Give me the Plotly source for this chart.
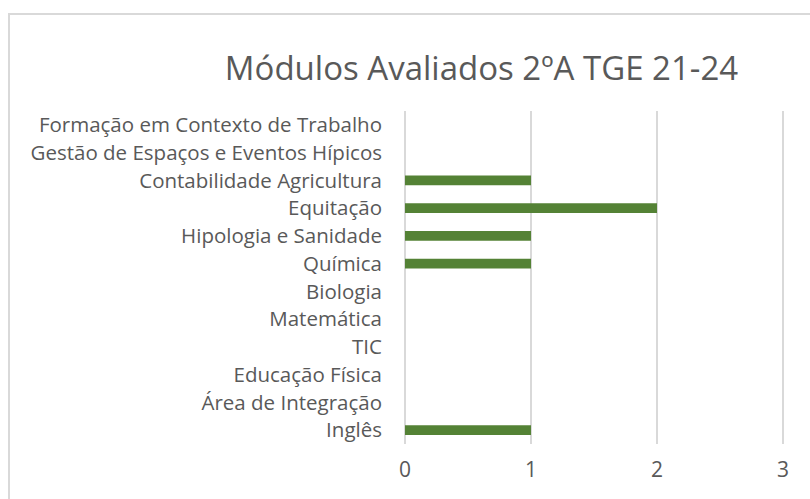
import plotly.graph_objects as go

categories = [
    "Inglês",
    "Área de Integração",
    "Educação Física",
    "TIC",
    "Matemática",
    "Biologia",
    "Química",
    "Hipologia e Sanidade",
    "Equitação",
    "Contabilidade Agricultura",
    "Gestão de Espaços e Eventos Hípicos",
    "Formação em Contexto de Trabalho",
]
values = [1, 0, 0, 0, 0, 0, 1, 1, 2, 1, 0, 0]
x_ticks = [0, 1, 2, 3]

W, H = 810, 499
L, R, T, B = 404, 26, 111, 55
pw, ph = W - L - R, H - T - B

fig = go.Figure(go.Bar(
    y=categories, x=values, orientation="h",
    marker=dict(color="#548235", line=dict(width=0)),
    width=0.36,
))

font_family = "Open Sans, Liberation Sans, sans-serif"

fig.update_layout(
    width=W, height=H,
    margin=dict(l=L, r=R, t=T, b=B),
    paper_bgcolor="white", plot_bgcolor="white",
    showlegend=False,
    title=dict(
        text="Módulos Avaliados 2ºA TGE 21-24",
        x=481.5 / W, xanchor="center", xref="container",
        y=1 - 68 / H, yanchor="middle", yref="container",
        font=dict(family=font_family, size=33, color="#595959"),
    ),
    xaxis=dict(
        range=[-0.008, 3.008], tickvals=x_ticks, showgrid=True, gridcolor="#d9d9d9", gridwidth=2,
        zeroline=False, showline=False, ticks="",
        tickfont=dict(family=font_family, size=21, color="#595959"),
        ticklabelstandoff=11,
    ),
    yaxis=dict(
        showgrid=False, zeroline=False, showline=False, ticks="",
        tickfont=dict(family=font_family, size=20.5, color="#595959"),
        ticklabelstandoff=21,
        range=[-0.5, 11.5],
    ),
    font=dict(family=font_family, color="#595959"),
)

# outer chart border (light gray)
fig.add_shape(
    type="rect", xref="paper", yref="paper",
    x0=(9 - L) / pw, x1=(830 - L) / pw,
    y0=(H - B - 520) / ph, y1=(H - B - 14) / ph,
    line=dict(color="#d9d9d9", width=2), fillcolor="rgba(0,0,0,0)", layer="below",
)

fig.write_html(
    "out.html",
    config={"displayModeBar": False},
    post_script="document.body.style.margin='0';document.body.style.padding='0';",
)
